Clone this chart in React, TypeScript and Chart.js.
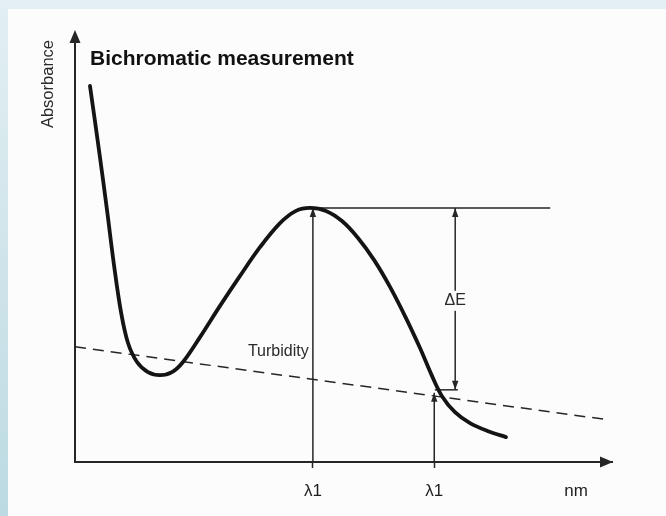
import React, { useEffect, useRef } from "react";
import { Chart, registerables } from "chart.js";
Chart.register(...registerables);

// Abstract units: wavelength axis 0..100, absorbance axis 0..100
const spectrumX = [2.79, 4.47, 5.96, 7.26, 8.57, 9.87, 11.55, 13.59, 15.83, 18.06, 20.11, 23.28, 27.0, 30.73, 34.45, 38.18, 41.15, 43.76, 46.74, 49.72, 52.7, 55.68, 58.66, 61.64, 64.25, 66.48, 68.34, 70.76, 73.56, 76.91, 80.26];
const spectrumY = [89.1, 73.9, 59.7, 46.7, 35.5, 28.2, 23.7, 21.3, 20.6, 21.3, 23.7, 29.6, 37.0, 44.1, 50.9, 56.6, 59.5, 60.2, 59.5, 57.1, 53.1, 47.9, 41.5, 34.1, 27.0, 20.4, 15.6, 11.8, 9.2, 7.3, 5.9];

const turbidityX = [0, 99.3];
const turbidityY = [27.3, 10.0];

const peakLineX = [44.3, 88.5];
const peakLineY = [60.2, 60.2];

const lambdaMainX = [44.3, 44.3];
const lambdaMainY = [0, 60.2];
const lambdaSubX = [66.9, 66.9];
const lambdaSubY = [0, 16.4];

const deltaEX = [70.8, 70.8];
const deltaEY = [60.2, 17.1];
const deltaBaseX = [67.0, 71.3];
const deltaBaseY = [17.1, 17.1];

const xTickValues = [44.3, 66.9, 93.3];
const xTickLabels = ["λ1", "λ1", "nm"];

const annotationTexts = ["Bichromatic measurement", "Turbidity", "ΔE"];
const annotationX = [2.8, 32.2, 70.8];
const annotationY = [95.5, 26.1, 38.2];

const pts = (xs: number[], ys: number[]) => xs.map((x, i) => ({ x, y: ys[i] }));

const INK = "#141414";
const LINE = "#262626";
const FONT = "'Liberation Sans', Arial, Helvetica, sans-serif";

const overlayPlugin = {
  id: "overlay",
  afterDatasetsDraw(chart: any) {
    const { ctx, chartArea, scales } = chart;
    const xs = scales.x;
    const ys = scales.y;
    ctx.save();
    ctx.fillStyle = LINE;
    ctx.strokeStyle = LINE;
    ctx.lineWidth = 2;
    const yTop = chartArea.top - 10;
    ctx.beginPath();
    ctx.moveTo(chartArea.left, chartArea.top);
    ctx.lineTo(chartArea.left, yTop + 8);
    ctx.stroke();
    const tri = (tx: number, ty: number, dx: number, dy: number, len: number, half: number) => {
      const bx = tx - dx * len;
      const by = ty - dy * len;
      ctx.beginPath();
      ctx.moveTo(tx, ty);
      ctx.lineTo(bx - dy * half, by + dx * half);
      ctx.lineTo(bx + dy * half, by - dx * half);
      ctx.closePath();
      ctx.fill();
    };
    tri(chartArea.left, yTop, 0, -1, 13, 5.5);
    tri(chartArea.right + 1, chartArea.bottom, 1, 0, 13, 5.5);

    const arrowDefs: [number, boolean, boolean][] = [
      [3, false, true],
      [4, false, true],
      [5, true, true],
    ];
    for (const [di, atStart, atEnd] of arrowDefs) {
      const d = chart.data.datasets[di].data as any[];
      const p0 = { x: xs.getPixelForValue(d[0].x), y: ys.getPixelForValue(d[0].y) };
      const p1 = { x: xs.getPixelForValue(d[d.length - 1].x), y: ys.getPixelForValue(d[d.length - 1].y) };
      const L = Math.hypot(p1.x - p0.x, p1.y - p0.y);
      const ux = (p1.x - p0.x) / L;
      const uy = (p1.y - p0.y) / L;
      if (atEnd) tri(p1.x, p1.y, ux, uy, 9, 3.2);
      if (atStart) tri(p0.x, p0.y, -ux, -uy, 9, 3.2);
    }

    annotationTexts.forEach((t, i) => {
      const px = xs.getPixelForValue(annotationX[i]);
      const py = ys.getPixelForValue(annotationY[i]);
      ctx.textBaseline = "middle";
      if (i === 0) {
        ctx.font = `bold 21px ${FONT}`;
        ctx.fillStyle = "#111";
        ctx.textAlign = "left";
        ctx.fillText(t, px, py);
      } else if (i === 1) {
        ctx.font = `16px ${FONT}`;
        ctx.fillStyle = "#2a2a2a";
        ctx.textAlign = "left";
        ctx.fillText(t, px, py);
      } else {
        ctx.font = `16px ${FONT}`;
        const w = ctx.measureText(t).width;
        ctx.fillStyle = "#fcfcfc";
        ctx.fillRect(px - w / 2 - 2, py - 10, w + 4, 20);
        ctx.fillStyle = "#2a2a2a";
        ctx.textAlign = "center";
        ctx.fillText(t, px, py);
      }
    });
    ctx.restore();
  },
};

export default function App() {
  const ref = useRef<HTMLCanvasElement>(null);
  useEffect(() => {
    const thin = { pointRadius: 0, borderColor: LINE, borderWidth: 1.5, fill: false, tension: 0 };
    const chart = new Chart(ref.current as HTMLCanvasElement, {
      type: "line",
      data: {
        datasets: [
          { label: "Absorbance", data: pts(spectrumX, spectrumY), borderColor: INK, borderWidth: 3.8, pointRadius: 0, tension: 0.35, fill: false, borderCapStyle: "round", borderJoinStyle: "round" } as any,
          { label: "Turbidity", data: pts(turbidityX, turbidityY), ...thin, borderDash: [11, 7] },
          { label: "Peak", data: pts(peakLineX, peakLineY), ...thin },
          { label: "λ1 main", data: pts(lambdaMainX, lambdaMainY), ...thin },
          { label: "λ1 sub", data: pts(lambdaSubX, lambdaSubY), ...thin },
          { label: "ΔE", data: pts(deltaEX, deltaEY), ...thin },
          { label: "ΔE base", data: pts(deltaBaseX, deltaBaseY), ...thin },
        ],
      },
      options: {
        animation: false,
        responsive: false,
        events: [],
        layout: { padding: { top: 31, right: 54, left: 0, bottom: 0 } },
        plugins: { legend: { display: false }, title: { display: false }, tooltip: { enabled: false } },
        scales: {
          x: {
            type: "linear",
            min: 0,
            max: 100,
            afterFit: (s: any) => { s.height = 54; },
            afterBuildTicks: (s: any) => { s.ticks = xTickValues.map((v) => ({ value: v })); },
            grid: {
              display: true,
              drawOnChartArea: false,
              drawTicks: true,
              tickLength: 6,
              tickWidth: 1.5,
              tickColor: (c: any) => (c.index < 2 ? LINE : "rgba(0,0,0,0)"),
            },
            border: { display: true, color: LINE, width: 2 },
            ticks: {
              autoSkip: false,
              maxRotation: 0,
              padding: 13,
              color: "#1e1e1e",
              font: { family: FONT, size: 17 },
              callback: (_v: any, i: number) => xTickLabels[i],
            },
          },
          y: {
            type: "linear",
            min: 0,
            max: 100,
            afterFit: (s: any) => { s.width = 67; },
            grid: { display: false },
            border: { display: true, color: LINE, width: 2 },
            ticks: { display: false },
            title: {
              display: true,
              text: "Absorbance",
              align: "end",
              color: "#2a2a2a",
              font: { family: FONT, size: 16.5 },
              padding: { top: 31, bottom: 0 },
            },
          },
        },
      },
      plugins: [overlayPlugin],
    } as any);
    return () => chart.destroy();
  }, []);
  return (
    <div style={{ position: "fixed", left: 0, top: 0, width: 666, height: 516, overflow: "hidden", background: "#fcfcfc" }}>
      <div style={{ position: "absolute", left: 0, top: 0, width: 8, height: 516, background: "linear-gradient(to bottom, #e3eff2, #bcdae2)" }} />
      <div style={{ position: "absolute", left: 0, top: 0, width: 666, height: 9, background: "#e3eff2" }} />
      <canvas ref={ref} width={658} height={507} style={{ position: "absolute", left: 8, top: 9, width: 658, height: 507 }} />
    </div>
  );
}
